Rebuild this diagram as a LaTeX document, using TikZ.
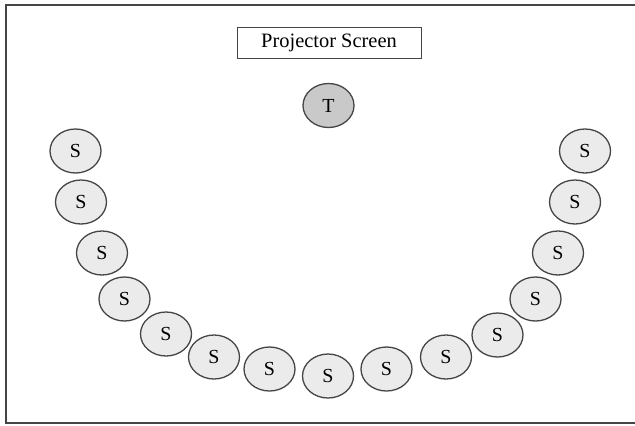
\documentclass[tikz,border=0pt]{standalone}
\usepackage{fontspec}
\setmainfont{Liberation Serif}
\usetikzlibrary{shapes.geometric}
\definecolor{edgegray}{HTML}{454545}
\definecolor{seatfill}{HTML}{EBEBEB}
\definecolor{teachfill}{HTML}{C9C9C9}
\tikzset{
  seat/.style={ellipse, draw=edgegray, line width=1.3bp, fill=seatfill,
    minimum width=51bp, minimum height=44bp, inner sep=0pt, font=\fontsize{20}{21}\selectfont},
  teacher/.style={seat, fill=teachfill},
  screenbox/.style={rectangle, draw=edgegray, line width=0.8bp, minimum width=184bp,
    minimum height=31bp, inner sep=0pt, font=\fontsize{20.5}{22}\selectfont},
  frame/.style={draw=edgegray, line width=1.8bp}
}
\begin{document}
\begin{tikzpicture}[x=1bp,y=-1bp]
\useasboundingbox (0,0) rectangle (635,425);
\fill[white] (0,0) rectangle (635,425);
\draw[frame] (6,5) rectangle (637,423);
\node[screenbox] (screen) at (329,42.5) {Projector Screen};
\node[teacher] (T) at (328.5,105.5) {T};
\node[seat] (L1) at (75.5,151) {S};
\node[seat] (L2) at (81,202) {S};
\node[seat] (L3) at (102,253) {S};
\node[seat] (L4) at (124.5,299) {S};
\node[seat] (L5) at (166,334) {S};
\node[seat] (L6) at (214,357) {S};
\node[seat] (B1) at (269.5,369) {S};
\node[seat] (B2) at (328,376) {S};
\node[seat] (B3) at (386.5,369) {S};
\node[seat] (R6) at (446,357) {S};
\node[seat] (R5) at (497.5,335) {S};
\node[seat] (R4) at (535.5,299) {S};
\node[seat] (R3) at (558,253) {S};
\node[seat] (R2) at (575,202) {S};
\node[seat] (R1) at (585,151) {S};
\end{tikzpicture}
\end{document}
